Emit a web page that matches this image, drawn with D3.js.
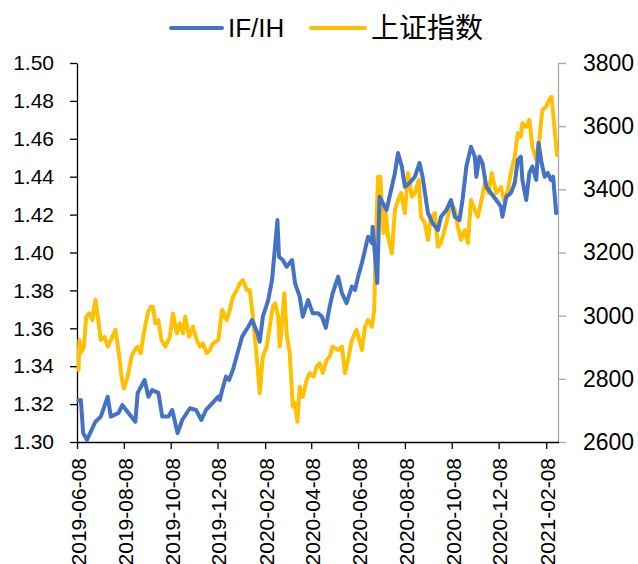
<!DOCTYPE html>
<html><head><meta charset="utf-8">
<script src="https://cdn.jsdelivr.net/npm/d3@7/dist/d3.min.js"></script>
<style>body{margin:0;background:#fff}svg{display:block}</style>
</head><body>
<script>
const seriesNames = ["IF/IH", "上证指数"];
const ifDates = ["2019-06-10","2019-06-13","2019-06-16","2019-06-21","2019-07-02","2019-07-09","2019-07-18","2019-07-22","2019-08-01","2019-08-06","2019-08-14","2019-08-23","2019-08-26","2019-09-04","2019-09-09","2019-09-14","2019-09-22","2019-09-27","2019-10-05","2019-10-10","2019-10-17","2019-10-23","2019-11-02","2019-11-10","2019-11-17","2019-11-23","2019-12-01","2019-12-09","2019-12-11","2019-12-14","2019-12-19","2019-12-23","2019-12-28","2020-01-03","2020-01-09","2020-01-17","2020-01-22","2020-01-29","2020-02-01","2020-02-05","2020-02-12","2020-02-17","2020-02-24","2020-02-26","2020-03-02","2020-03-07","2020-03-14","2020-03-18","2020-03-24","2020-03-28","2020-04-04","2020-04-10","2020-04-17","2020-04-22","2020-04-27","2020-05-02","2020-05-06","2020-05-13","2020-05-18","2020-05-24","2020-05-31","2020-06-04","2020-06-08","2020-06-13","2020-06-17","2020-06-21","2020-06-26","2020-06-27","2020-07-03","2020-07-06","2020-07-15","2020-07-22","2020-07-26","2020-07-30","2020-08-04","2020-08-08","2020-08-14","2020-08-21","2020-08-27","2020-08-31","2020-09-07","2020-09-13","2020-09-20","2020-09-24","2020-10-01","2020-10-07","2020-10-12","2020-10-18","2020-10-22","2020-10-27","2020-11-02","2020-11-07","2020-11-09","2020-11-13","2020-11-17","2020-11-22","2020-11-28","2020-12-05","2020-12-11","2020-12-13","2020-12-18","2020-12-24","2020-12-29","2021-01-02","2021-01-06","2021-01-08","2021-01-13","2021-01-17","2021-01-21","2021-01-26","2021-01-29","2021-02-02","2021-02-06","2021-02-10","2021-02-14","2021-02-17","2021-02-21"];
const ifValues = [1.322,1.3222,1.3047,1.3011,1.3107,1.3134,1.3239,1.3134,1.3153,1.3195,1.3153,1.3107,1.3259,1.3327,1.3239,1.3274,1.3259,1.3134,1.3134,1.3169,1.3047,1.3116,1.3178,1.3169,1.3116,1.3169,1.3204,1.3239,1.3222,1.3274,1.3345,1.3327,1.338,1.3468,1.3556,1.3608,1.3644,1.3574,1.3529,1.3661,1.3749,1.3855,1.4171,1.3978,1.396,1.3925,1.396,1.3837,1.3767,1.3661,1.3749,1.3679,1.3679,1.3661,1.3602,1.3714,1.3786,1.3872,1.3786,1.3733,1.382,1.3802,1.3872,1.3945,1.4013,1.4083,1.405,1.4136,1.3839,1.4294,1.4224,1.4347,1.442,1.4525,1.4453,1.4347,1.4367,1.44,1.4472,1.44,1.4208,1.4156,1.4119,1.4189,1.4224,1.4277,1.4189,1.4171,1.4277,1.4453,1.4558,1.4506,1.44,1.4506,1.4472,1.4347,1.4314,1.4277,1.4242,1.4189,1.4294,1.4314,1.4367,1.4488,1.4506,1.4383,1.4277,1.442,1.4453,1.4383,1.4578,1.4472,1.44,1.442,1.4383,1.44,1.4208];
const shDates = ["2019-06-10","2019-06-11","2019-06-13","2019-06-17","2019-06-20","2019-06-24","2019-06-28","2019-07-02","2019-07-05","2019-07-09","2019-07-14","2019-07-18","2019-07-24","2019-07-28","2019-08-01","2019-08-05","2019-08-08","2019-08-13","2019-08-18","2019-08-22","2019-08-26","2019-08-30","2019-09-03","2019-09-08","2019-09-12","2019-09-15","2019-09-18","2019-09-22","2019-09-26","2019-10-01","2019-10-07","2019-10-11","2019-10-16","2019-10-20","2019-10-24","2019-10-27","2019-11-01","2019-11-06","2019-11-11","2019-11-15","2019-11-19","2019-11-24","2019-11-28","2019-12-02","2019-12-09","2019-12-14","2019-12-20","2019-12-24","2019-12-28","2020-01-02","2020-01-06","2020-01-10","2020-01-15","2020-01-19","2020-01-23","2020-01-28","2020-02-01","2020-02-05","2020-02-10","2020-02-14","2020-02-18","2020-02-21","2020-02-25","2020-02-27","2020-03-01","2020-03-04","2020-03-07","2020-03-11","2020-03-15","2020-03-18","2020-03-21","2020-03-24","2020-03-28","2020-04-02","2020-04-06","2020-04-11","2020-04-15","2020-04-19","2020-04-23","2020-04-28","2020-05-02","2020-05-06","2020-05-13","2020-05-18","2020-05-22","2020-05-26","2020-05-31","2020-06-06","2020-06-13","2020-06-17","2020-06-21","2020-06-26","2020-06-29","2020-07-01","2020-07-04","2020-07-07","2020-07-11","2020-07-14","2020-07-17","2020-07-22","2020-07-26","2020-07-30","2020-08-03","2020-08-08","2020-08-12","2020-08-17","2020-08-21","2020-08-26","2020-08-29","2020-09-03","2020-09-07","2020-09-11","2020-09-16","2020-09-20","2020-09-24","2020-10-01","2020-10-07","2020-10-12","2020-10-16","2020-10-20","2020-10-25","2020-10-29","2020-11-02","2020-11-07","2020-11-11","2020-11-15","2020-11-20","2020-11-25","2020-11-29","2020-12-05","2020-12-11","2020-12-16","2020-12-20","2020-12-24","2020-12-29","2021-01-02","2021-01-06","2021-01-08","2021-01-13","2021-01-17","2021-01-21","2021-01-26","2021-01-30","2021-02-03","2021-02-08","2021-02-12","2021-02-15","2021-02-19","2021-02-22"];
const shValues = [2828,2923,2882,2902,2997,3007,2986,3050,2997,2923,2933,2902,2933,2955,2891,2807,2770,2807,2870,2891,2902,2881,2944,3007,3028,3028,2976,2986,2923,2902,2933,3007,2944,2976,2944,2997,2933,2965,2923,2902,2912,2881,2891,2912,2923,3018,2986,3018,3060,3081,3102,3113,3081,3081,2997,2870,2754,2870,2902,2965,3028,3039,2997,2902,2976,3071,2944,2881,2712,2723,2664,2775,2743,2796,2818,2807,2838,2849,2818,2860,2870,2902,2891,2902,2818,2860,2923,2955,2891,2965,2986,2965,3018,3218,3440,3440,3261,3325,3250,3197,3335,3366,3388,3325,3452,3377,3388,3430,3313,3293,3240,3313,3325,3218,3230,3293,3357,3335,3282,3240,3271,3230,3366,3335,3313,3357,3420,3388,3452,3388,3408,3357,3398,3452,3503,3578,3567,3609,3598,3620,3535,3493,3556,3651,3662,3683,3693,3588,3509];
const leftTicks = [1.30,1.32,1.34,1.36,1.38,1.40,1.42,1.44,1.46,1.48,1.50];
const rightTicks = [2600,2800,3000,3200,3400,3600,3800];
const xTickLabels = ["2019-06-08","2019-08-08","2019-10-08","2019-12-08","2020-02-08","2020-04-08","2020-06-08","2020-08-08","2020-10-08","2020-12-08","2021-02-08"];
const xDomain = ["2019-06-08","2021-02-24"];

const W = 638, H = 564;
const parse = d3.timeParse("%Y-%m-%d");
const svg = d3.select("body").append("svg").attr("width", W).attr("height", H);
const font = "'Liberation Sans', Arial, sans-serif";

const x = d3.scaleTime().domain(xDomain.map(parse)).range([77, 558.5]);
const yL = d3.scaleLinear().domain([1.30, 1.50]).range([442, 63]);
const yR = d3.scaleLinear().domain([2600, 3800]).range([442, 63]);

// Left axis
const gL = svg.append("g").attr("transform", "translate(77,0)")
  .call(d3.axisLeft(yL).tickValues(leftTicks).tickFormat(d3.format(".2f")).tickSizeOuter(0).tickSizeInner(7).tickPadding(16));
gL.select(".domain").attr("stroke", "#000").attr("stroke-width", 1.3);
gL.selectAll(".tick line").attr("stroke", "#000").attr("stroke-width", 1.3);
gL.selectAll("text").attr("font-family", font).attr("font-size", 21).attr("fill", "#000");

// Right axis
const gR = svg.append("g").attr("transform", "translate(558,0)")
  .call(d3.axisRight(yR).tickValues(rightTicks).tickFormat(d3.format("d")).tickSizeOuter(0).tickSizeInner(8).tickPadding(17));
gR.select(".domain").attr("stroke", "#a6a6a6").attr("stroke-width", 1.3);
gR.selectAll(".tick line").attr("stroke", "#a6a6a6").attr("stroke-width", 1.3);
gR.selectAll("text").attr("font-family", font).attr("font-size", 23).attr("fill", "#000");

// Bottom axis
const gB = svg.append("g").attr("transform", "translate(0,442)")
  .call(d3.axisBottom(x).tickValues(xTickLabels.map(parse)).tickFormat(d3.timeFormat("%Y-%m-%d")).tickSizeOuter(0).tickSizeInner(7));
gB.select(".domain").attr("stroke", "#000").attr("stroke-width", 1.6);
gB.selectAll(".tick line").attr("stroke", "#000").attr("stroke-width", 1.3);
gB.selectAll("text").attr("font-family", font).attr("font-size", 21).attr("fill", "#000")
  .attr("transform", "rotate(-90)").attr("text-anchor", "end")
  .attr("x", -16).attr("y", 1).attr("dy", "0.35em");

// Lines
const ifData = ifDates.map((d, i) => ({ d: parse(d), v: ifValues[i] }));
const shData = shDates.map((d, i) => ({ d: parse(d), v: shValues[i] }));
const plot = svg.append("g");
plot.append("path").datum(shData)
  .attr("d", d3.line().x(p => x(p.d)).y(p => yR(p.v)))
  .attr("fill", "none").attr("stroke", "#FFC000").attr("stroke-width", 4).attr("stroke-linejoin", "round").attr("stroke-linecap", "round");
plot.append("path").datum(ifData)
  .attr("d", d3.line().x(p => x(p.d)).y(p => yL(p.v)))
  .attr("fill", "none").attr("stroke", "#4472C4").attr("stroke-width", 4).attr("stroke-linejoin", "round").attr("stroke-linecap", "round");

// Legend
const legend = svg.append("g");
legend.append("line").attr("x1", 171).attr("x2", 222).attr("y1", 28).attr("y2", 28)
  .attr("stroke", "#4472C4").attr("stroke-width", 4).attr("stroke-linecap", "round");
legend.append("text").attr("x", 228).attr("y", 37).text(seriesNames[0])
  .attr("font-family", font).attr("font-size", 26).attr("fill", "#000");
legend.append("line").attr("x1", 311).attr("x2", 365).attr("y1", 28).attr("y2", 28)
  .attr("stroke", "#FFC000").attr("stroke-width", 4).attr("stroke-linecap", "round");
legend.append("text").attr("x", 371).attr("y", 38).text(seriesNames[1])
  .attr("font-family", "'Noto Sans CJK SC', sans-serif").attr("font-size", 28).attr("fill", "#000");
</script>
</body></html>
